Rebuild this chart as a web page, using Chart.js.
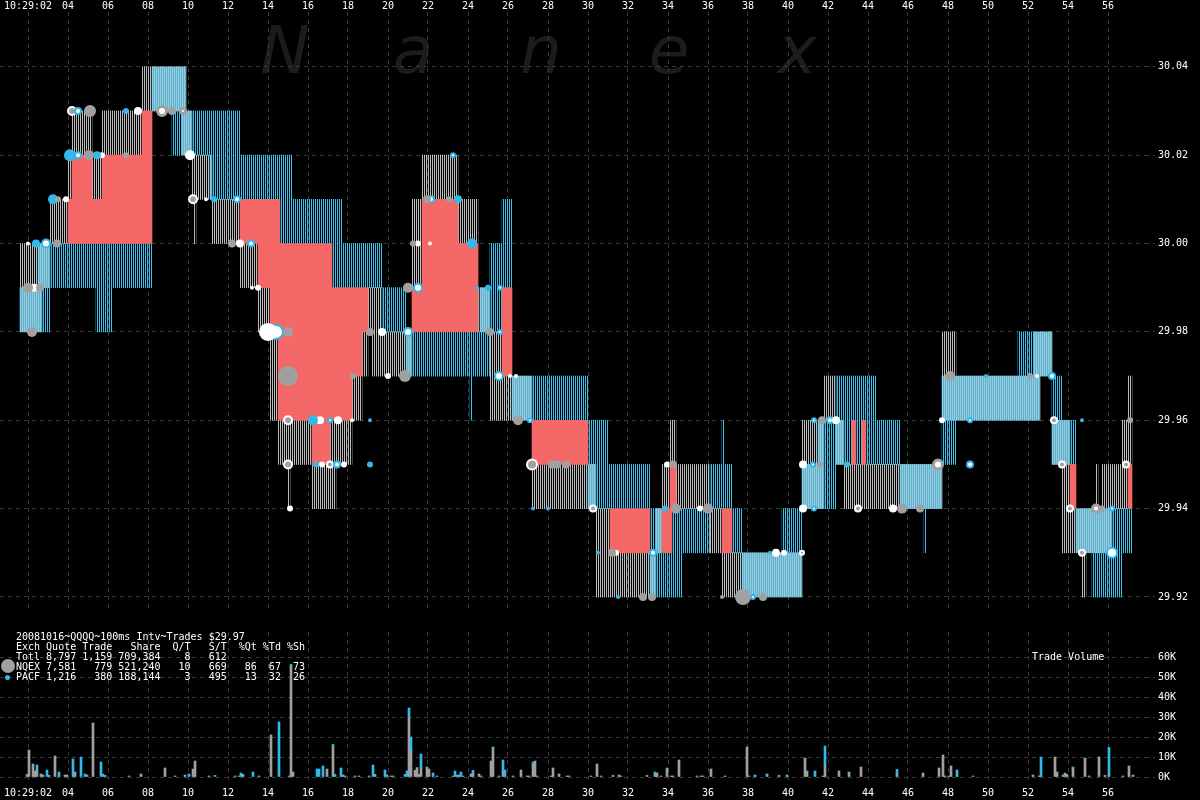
<!DOCTYPE html>
<html>
<head>
<meta charset="utf-8">
<script src="https://cdn.jsdelivr.net/npm/chart.js@4.4.1/dist/chart.umd.min.js"></script>
<style>
  html, body { margin: 0; padding: 0; background: #000; width: 1200px; height: 800px; overflow: hidden; }
  #wrap { position: relative; width: 1200px; height: 800px; }
  canvas { position: absolute; left: 0; }
  #price { top: 0; width: 1200px; height: 620px; }
  #vol { top: 620px; width: 1200px; height: 180px; }
  .txt { position: absolute; color: #fff; font: 10px/10px "DejaVu Sans Mono", monospace; white-space: pre; }
  .dot { position: absolute; border-radius: 50%; }
</style>
</head>
<body>
<div id="wrap">
  <canvas id="price" width="1200" height="620"></canvas>
  <canvas id="vol" width="1200" height="180"></canvas>
  <div class="txt" style="left:16px;top:632px">20081016~QQQQ~100ms Intv~Trades $29.97
Exch Quote Trade   Share  Q/T   S/T  %Qt %Td %Sh
Totl 8,797 1,159 709,384    8   612
NQEX 7,581   779 521,240   10   669   86  67  73
PACF 1,216   380 188,144    3   495   13  32  26</div>
  <div class="dot" style="left:1px;top:659px;width:14px;height:14px;background:#a0a0a0"></div>
  <div class="dot" style="left:5px;top:675px;width:5px;height:5px;background:#32b8ea"></div>
  <div class="txt" style="left:1032px;top:652px">Trade Volume</div>
</div>
<script>
// ---- time axis (seconds after 10:29:00) ----
const timeTicks = [2, 4, 6, 8, 10, 12, 14, 16, 18, 20, 22, 24, 26, 28, 30, 32, 34, 36, 38, 40, 42, 44, 46, 48, 50, 52, 54, 56];
const timeTickLabels = ["10:29:02", "04", "06", "08", "10", "12", "14", "16", "18", "20", "22", "24", "26", "28",
  "30", "32", "34", "36", "38", "40", "42", "44", "46", "48", "50", "52", "54", "56"];
const priceTicks = [29.92, 29.94, 29.96, 29.98, 30.00, 30.02, 30.04];
const volTicks = [0, 10, 20, 30, 40, 50, 60];

// ---- NQEX quotes (each holds until the next time) ----
const nqexTimes = [1.6, 2.7, 3.1, 4.0, 4.2, 5.2, 5.7, 7.7, 9.7, 9.9, 10.2, 10.3, 10.4, 11.2, 12.6, 13.5, 14.1, 14.5,
  15.0, 15.1, 16.2, 17.1, 17.4, 18.2, 18.7, 19.0, 19.2, 19.7, 21.2, 21.7, 23.5, 24.5, 25.1, 25.7, 27.2, 30.4, 31.1,
  33.4, 33.7, 34.1, 34.4, 36.1, 36.7, 40.7, 41.8, 42.4, 42.8, 47.7, 48.4, 52.3, 52.6, 53.2, 53.7, 54.1, 54.7, 54.9,
  55.4, 55.5, 55.7, 56.2, 56.7, 57.0];
const nqexBids = [29.98, 29.99, 30.00, 30.01, 30.02, 30.01, 30.02, 30.03, 30.02, 30.02, 30.01, 30.00, 30.01, 30.00,
  29.99, 29.98, 29.96, 29.95, 29.94, 29.95, 29.94, 29.94, 29.95, 29.96, 29.97, 29.98, 29.97, 29.97, 29.99, 30.01,
  30.00, 29.98, 29.96, 29.96, 29.94, 29.92, 29.92, 29.93, 29.94, 29.95, 29.94, 29.93, 29.92, 29.94, 29.96, 29.95,
  29.94, 29.96, 29.96, 29.96, 29.97, 29.95, 29.93, 29.93, 29.92, 29.93, 29.93, 29.93, 29.93, 29.94, 29.94, 29.95];
const nqexAsks = [30.00, 30.00, 30.01, 30.02, 30.03, 30.02, 30.03, 30.04, 30.04, 30.03, 30.02, 30.02, 30.02, 30.01,
  30.00, 29.99, 29.98, 29.96, 29.96, 29.96, 29.95, 29.96, 29.96, 29.97, 29.98, 29.99, 29.99, 29.98, 30.01, 30.02,
  30.01, 29.99, 29.98, 29.97, 29.95, 29.94, 29.93, 29.94, 29.95, 29.96, 29.95, 29.94, 29.93, 29.96, 29.97, 29.96,
  29.95, 29.98, 29.97, 29.98, 29.98, 29.96, 29.96, 29.94, 29.94, 29.94, 29.95, 29.94, 29.95, 29.95, 29.96, 29.97];

// ---- PACF quotes ----
const pacfTimes = [1.6, 2.5, 3.1, 5.4, 6.2, 8.2, 9.2, 9.9, 11.1, 12.6, 14.6, 15.2, 17.2, 17.7, 19.7, 20.9, 24.1, 24.2,
  24.6, 25.1, 25.7, 26.2, 30.0, 31.0, 33.1, 33.7, 34.2, 34.7, 36.1, 36.7, 36.8, 37.2, 37.7, 39.7, 40.7, 41.5, 42.4,
  43.2, 43.4, 43.7, 43.9, 44.4, 45.6, 46.8, 46.9, 47.7, 48.4, 51.5, 52.6, 53.2, 53.7, 54.4, 55.2, 56.7];
const pacfBids = [29.98, 29.98, 29.99, 29.98, 29.99, 30.03, 30.02, 30.02, 30.01, 30.01, 30.00, 30.00, 29.99, 29.99,
  29.98, 29.97, 29.96, 29.97, 29.97, 29.98, 29.99, 29.96, 29.94, 29.94, 29.92, 29.92, 29.92, 29.93, 29.94, 29.94,
  29.94, 29.93, 29.92, 29.92, 29.94, 29.94, 29.95, 29.96, 29.95, 29.96, 29.95, 29.95, 29.94, 29.93, 29.94, 29.95,
  29.96, 29.96, 29.97, 29.95, 29.95, 29.93, 29.92, 29.93];
const pacfAsks = [29.99, 30.00, 30.00, 30.00, 30.00, 30.04, 30.04, 30.03, 30.03, 30.02, 30.02, 30.01, 30.01, 30.00,
  29.99, 29.98, 29.98, 29.98, 29.99, 30.00, 30.01, 29.97, 29.96, 29.95, 29.94, 29.93, 29.94, 29.94, 29.95, 29.96,
  29.95, 29.94, 29.93, 29.94, 29.95, 29.96, 29.97, 29.97, 29.97, 29.97, 29.97, 29.96, 29.95, 29.95, 29.95, 29.97,
  29.97, 29.98, 29.98, 29.97, 29.96, 29.94, 29.94, 29.94];
const quoteEnd = 57.2;

// ---- trades: time, price, shares, exchange mark ----
const tradeTimes = [2.00, 2.40, 2.90, 3.45, 2.00, 2.30, 2.60, 2.20, 3.25, 3.50, 3.90, 4.10, 4.50, 5.05, 5.45, 5.70,
  6.90, 4.20, 4.50, 5.10, 6.90, 7.50, 8.70, 9.20, 9.75, 10.10, 10.25, 10.90, 11.30, 12.45, 12.20, 12.60, 13.15,
  13.20, 13.50, 14.00, 14.40, 15.00, 15.00, 15.00, 16.25, 16.60, 17.10, 17.50, 18.20, 19.10, 15.00, 16.40, 16.70,
  17.10, 17.45, 17.80, 19.10, 15.10, 18.25, 19.10, 19.70, 20.00, 20.85, 21.00, 21.50, 21.00, 21.25, 21.50, 22.10,
  21.95, 22.15, 23.05, 23.50, 23.25, 24.20, 24.45, 25.00, 25.60, 25.10, 25.60, 25.55, 26.10, 26.40, 26.50, 27.10,
  27.20, 28.20, 28.45, 28.90, 27.25, 28.00, 30.25, 30.50, 31.20, 31.40, 31.50, 32.75, 33.20, 33.25, 33.95, 34.25,
  33.85, 34.40, 35.60, 36.00, 37.75, 38.25, 38.75, 36.70, 39.10, 39.40, 39.80, 40.70, 40.75, 41.30, 40.75, 41.25,
  41.60, 41.30, 41.70, 42.10, 42.40, 42.95, 43.50, 45.25, 45.70, 46.60, 47.50, 47.70, 48.10, 49.90, 52.10, 52.45,
  53.20, 49.10, 53.30, 54.70, 57.10, 49.10, 53.70, 56.90, 54.10, 55.40, 55.70, 56.20, 54.70, 56.20];
const tradePrices = [30.00, 30.00, 30.00, 30.00, 29.99, 29.99, 29.99, 29.98, 30.01, 30.01, 30.01, 30.02, 30.02, 30.02,
  30.02, 30.02, 30.02, 30.03, 30.03, 30.03, 30.03, 30.03, 30.03, 30.03, 30.03, 30.02, 30.01, 30.01, 30.01, 30.01,
  30.00, 30.00, 30.00, 29.99, 29.99, 29.98, 29.98, 29.98, 29.97, 29.96, 29.96, 29.96, 29.96, 29.96, 29.96, 29.96,
  29.95, 29.95, 29.95, 29.95, 29.95, 29.95, 29.95, 29.94, 29.97, 29.98, 29.98, 29.97, 29.97, 29.99, 29.99, 29.98,
  30.00, 30.00, 30.00, 30.01, 30.01, 30.01, 30.01, 30.02, 30.00, 29.99, 29.99, 29.99, 29.98, 29.98, 29.97, 29.97,
  29.97, 29.96, 29.96, 29.95, 29.95, 29.95, 29.95, 29.94, 29.94, 29.94, 29.93, 29.93, 29.93, 29.92, 29.92, 29.92,
  29.93, 29.95, 29.95, 29.94, 29.94, 29.94, 29.94, 29.92, 29.92, 29.92, 29.92, 29.93, 29.93, 29.93, 29.93, 29.94,
  29.94, 29.95, 29.95, 29.95, 29.96, 29.96, 29.96, 29.96, 29.95, 29.94, 29.94, 29.94, 29.94, 29.95, 29.96, 29.97,
  29.97, 29.97, 29.97, 29.97, 29.96, 29.96, 29.96, 29.96, 29.95, 29.95, 29.95, 29.94, 29.94, 29.94, 29.94, 29.93,
  29.93];
const tradeShares = [400, 1600, 2500, 1600, 2500, 1600, 1600, 2500, 2500, 900, 900, 3600, 1600, 2500, 1600, 900, 900,
  2500, 1600, 3600, 900, 1600, 3600, 1600, 1600, 2500, 2500, 400, 900, 1600, 1600, 1600, 1600, 400, 900, 8100, 6400,
  2500, 10000, 2500, 2500, 1600, 900, 1600, 400, 400, 2500, 900, 900, 1600, 1600, 900, 900, 900, 900, 1600, 1600, 900,
  3600, 2500, 2500, 2500, 900, 900, 400, 1600, 1600, 900, 1600, 900, 2500, 400, 900, 900, 1600, 900, 2500, 400, 400,
  2500, 900, 3600, 1600, 1600, 1600, 400, 400, 1600, 400, 1600, 900, 400, 1600, 1600, 1600, 900, 1600, 900, 2500,
  900, 2500, 6400, 900, 1600, 400, 400, 1600, 900, 900, 1600, 900, 1600, 900, 900, 900, 1600, 1600, 1600, 900, 1600,
  1600, 2500, 1600, 3600, 900, 2500, 400, 900, 400, 1600, 900, 1600, 400, 900, 1600, 1600, 1600, 1600, 2500, 900,
  900, 1600, 3600, 1600];
const tradeMarks = ["W", "P", "PW", "N", "N", "W", "N", "N", "P", "N", "W", "P", "PW", "N", "P", "W", "N", "WR", "PW",
  "N", "P", "W", "NW", "N", "NW", "W", "WR", "W", "P", "PW", "N", "W", "PW", "W", "W", "W", "PW", "N", "N", "WR",
  "P", "W", "PW", "W", "W", "P", "WR", "P", "W", "WR", "PW", "W", "P", "W", "N", "N", "W", "W", "N", "N", "PW", "PW",
  "N", "W", "W", "N", "PW", "N", "P", "PW", "P", "P", "P", "PW", "N", "PW", "PW", "W", "W", "N", "PW", "WR", "N", "N",
  "N", "P", "P", "WR", "P", "N", "W", "P", "N", "N", "PW", "W", "N", "P", "N", "W", "N", "N", "PW", "N", "N", "P", "W",
  "W", "WR", "W", "PW", "W", "PW", "N", "PW", "N", "PW", "W", "P", "WR", "W", "N", "N", "NW", "W", "N", "P", "N", "W",
  "PW", "PW", "WR", "P", "NW", "PW", "WR", "WR", "WR", "NW", "N", "PW", "WR", "PW"];

// ---- trade volume per 100ms interval (thousands of shares) ----
const volTimes = [1.9, 2.0, 2.2, 2.3, 2.4, 2.6, 2.7, 2.9, 3.0, 3.3, 3.5, 3.8, 3.9, 4.2, 4.3, 4.6, 4.8, 4.9, 5.2, 5.6,
  5.7, 5.8, 7.0, 7.6, 8.8, 9.3, 9.8, 10.0, 10.2, 10.3, 11.0, 11.3, 12.3, 12.5, 12.6, 12.7, 13.2, 13.5, 14.1, 14.5,
  15.0, 15.1, 15.2, 16.4, 16.5, 16.7, 16.9, 17.2, 17.3, 17.6, 17.7, 17.8, 18.3, 18.5, 19.0, 19.2, 19.3, 19.8, 19.9,
  20.1, 20.2, 20.8, 20.9, 21.0, 21.1, 21.3, 21.4, 21.5, 21.6, 21.9, 22.0, 22.2, 22.4, 23.2, 23.3, 23.4, 23.5, 23.6,
  23.7, 24.1, 24.2, 24.5, 24.6, 25.1, 25.2, 25.5, 25.7, 25.8, 26.2, 26.6, 26.9, 27.0, 27.2, 27.3, 27.4, 28.1, 28.2,
  28.5, 28.9, 29.0, 30.1, 30.4, 30.6, 31.2, 31.5, 31.6, 32.9, 33.3, 33.4, 33.6, 33.9, 34.1, 34.2, 34.5, 35.4, 35.6,
  35.7, 36.1, 36.8, 37.9, 38.0, 38.3, 38.4, 38.9, 39.2, 39.5, 39.9, 40.8, 40.9, 41.3, 41.4, 41.7, 41.8, 42.3, 42.5,
  43.0, 43.1, 43.6, 45.4, 45.8, 46.7, 47.5, 47.7, 47.8, 48.0, 48.1, 48.4, 49.2, 50.0, 52.2, 52.5, 52.6, 53.3, 53.4,
  53.7, 53.8, 53.9, 54.2, 54.8, 55.0, 55.5, 55.8, 56.0, 56.3, 56.7, 57.0, 57.2];
const volNqex = [1.3, 13.5, 6.5, 3, 3.5, 1.5, 1, 0, 0.8, 10.5, 0.5, 1, 1, 0, 2.5, 0, 0, 1, 27, 0, 0, 0.8, 0, 1.5, 4.5,
  0.5, 1, 0, 4, 8, 0.5, 0, 0.5, 0, 0, 1.3, 0, 0.5, 21, 0, 0, 55.5, 2.5, 0, 0, 0, 4, 15.5, 0, 0, 1, 0.5, 0.5, 0.5, 0.5,
  0, 1.3, 0, 1, 0.5, 0.5, 0, 0, 30, 13.5, 3.3, 4.7, 1.3, 4.5, 5, 4, 0, 0.5, 0.5, 0, 0, 1, 0, 0.5, 1.5, 2, 1.5, 0.5, 8,
  14.5, 0.5, 3, 0, 0.5, 3.5, 0.5, 0.5, 6.5, 8, 0, 0, 4.5, 1.5, 0.5, 0.5, 0, 6.5, 0, 0.8, 1, 0, 0.8, 1.5, 2, 0.5, 4, 0.5,
  0.5, 8.5, 0.5, 0.5, 0.5, 4, 0.5, 15, 0.5, 0.5, 0, 1, 0, 0.8, 0.5, 9.5, 2.5, 0, 0, 0.5, 6, 0, 3, 2, 0, 5, 1.3, 0, 2,
  4.5, 11, 0.5, 0.5, 5.5, 0.5, 0, 0, 1, 0.5, 0.5, 10, 2.5, 0.5, 2, 1.3, 4.5, 9.5, 0.5, 10, 0.8, 1.3, 0, 0.5, 5.5, 1];
const volPacf = [0, 0, 0, 0, 2.5, 0, 0, 3.5, 0, 0, 2, 0, 0, 9, 0, 10, 1.5, 0, 0, 7.5, 1.5, 0, 0.5, 0, 0, 0, 0, 1.5, 0,
  0, 0, 0.8, 0, 0.5, 2, 0, 2.5, 0, 0, 27.5, 0.5, 0.8, 0, 4, 4, 5.5, 0, 0.8, 1.3, 4.5, 0, 0, 0, 0, 0, 6, 0, 3.5, 0, 0, 0,
  1.3, 3, 4.5, 6.5, 0, 0, 0, 7, 0, 0, 2, 0, 0, 3, 1, 0, 2.5, 0, 0, 1.3, 0, 0, 0, 0.5, 0, 5.5, 3.5, 0, 0, 0, 0, 1, 0, 0.5,
  0.5, 0, 0, 0, 0, 0.5, 0, 0.5, 0, 0, 0.5, 0, 1, 0, 0, 0.5, 0, 0, 0, 0, 0, 0, 0, 0, 0, 0, 0.5, 0, 0.5, 0, 0, 0.5, 0, 0.5,
  3, 0, 0, 9.5, 0, 0, 0.5, 0, 0, 2.5, 0, 0, 0, 0, 0, 0, 0, 3, 0.5, 0, 0, 0, 9.5, 0, 0, 0.5, 0, 0, 0.5, 0, 0, 0, 0, 13.5,
  0, 0, 0];

// ---- build the marks ----
const cents = (p) => Math.round(p * 100);
function quoteIndex(times, d) {
  if (d >= Math.round(quoteEnd * 10)) return -1;
  for (let i = times.length - 1; i >= 0; i--) {
    if (d >= Math.round(times[i] * 10)) return i;
  }
  return -1;
}

const nqexBars = [], pacfBars = [], crossedBars = [];
for (let d = Math.round(nqexTimes[0] * 10); d < Math.round(quoteEnd * 10); d++) {
  const x = d / 10 + 0.05;
  const i = quoteIndex(nqexTimes, d);
  const j = quoteIndex(pacfTimes, d);
  if (i >= 0) nqexBars.push({ x: x, y: [nqexBids[i], nqexAsks[i]] });
  if (j >= 0) pacfBars.push({ x: x, y: [pacfBids[j], pacfAsks[j]] });
  if (i >= 0 && j >= 0) {
    // crossed market: one exchange bids above the other's offer
    if (cents(nqexBids[i]) > cents(pacfAsks[j])) crossedBars.push({ x: x, y: [pacfAsks[j], nqexBids[i]] });
    else if (cents(pacfBids[j]) > cents(nqexAsks[i])) crossedBars.push({ x: x, y: [nqexAsks[i], pacfBids[j]] });
  }
}

const markStyles = {
  N:  { bg: "#a0a0a0", border: "#a0a0a0", width: 0 },
  P:  { bg: "#32b8ea", border: "#32b8ea", width: 0 },
  W:  { bg: "#ffffff", border: "#ffffff", width: 0 },
  NW: { bg: "#ffffff", border: "#a0a0a0", width: 3 },
  PW: { bg: "#ffffff", border: "#32b8ea", width: 2 },
  WR: { bg: "#a0a0a0", border: "#ffffff", width: 2 },
};
const tradeSets = Object.keys(markStyles).map((mark) => ({
  type: "bubble",
  order: 0,
  data: tradeTimes
    .map((t, i) => ({ x: t, y: tradePrices[i], r: Math.sqrt(tradeShares[i] / 100), m: tradeMarks[i] }))
    .filter((p) => p.m === mark)
    .map((p) => ({ x: p.x, y: p.y, r: markStyles[mark].width ? p.r - markStyles[mark].width / 2 : p.r })),
  backgroundColor: markStyles[mark].bg,
  borderColor: markStyles[mark].border,
  borderWidth: markStyles[mark].width,
}));

const volGrayBars = [], volCyanBars = [];
volTimes.forEach((t, i) => {
  if (volNqex[i] > 0) volGrayBars.push({ x: t + 0.05, y: [0, volNqex[i]] });
  if (volPacf[i] > 0) volCyanBars.push({ x: t + 0.05, y: [volNqex[i], volNqex[i] + volPacf[i]] });
});

// striped fills: NQEX on even pixel columns, PACF on odd ones, so both together read as solid
function stripe(ctx, color, col) {
  const c = document.createElement("canvas");
  c.width = 2; c.height = 1;
  const g = c.getContext("2d");
  g.fillStyle = color;
  g.fillRect(col, 0, 1, 1);
  return ctx.createPattern(c, "repeat");
}

const font = { family: "DejaVu Sans Mono", size: 10 };
const gridColor = "#3a3a3a";
const X_MIN = 0.6, X_MAX = 57.85;

// drop the label overhang padding so the plot area is exactly where it should be
function noPadding(s) {
  s.paddingLeft = 0; s.paddingRight = 0; s.paddingTop = 0; s.paddingBottom = 0;
}

const watermark = {
  id: "watermark",
  beforeDraw(chart) {
    const ctx = chart.ctx;
    ctx.save();
    ctx.font = 'italic 66px "DejaVu Sans"';
    ctx.fillStyle = "#1c1c1c";
    ctx.textAlign = "center";
    "Nanex".split("").forEach((ch, i) => ctx.fillText(ch, 285 + i * 128, 73));
    ctx.restore();
  },
};

function timeAxis(position, height, pad) {
  return {
    type: "linear",
    position: position,
    min: X_MIN,
    max: X_MAX,
    offset: false,
    afterBuildTicks: (s) => { s.ticks = timeTicks.map((v) => ({ value: v })); },
    afterFit: (s) => { s.height = height; noPadding(s); },
    ticks: { color: "#fff", font: font, padding: pad, maxRotation: 0, autoSkip: false,
      callback: (v, i) => timeTickLabels[i] },
    grid: { color: gridColor, drawTicks: false, offset: false },
    border: { display: false, dash: [4, 4] },
  };
}

const priceCanvas = document.getElementById("price");
const pctx = priceCanvas.getContext("2d");

new Chart(priceCanvas, {
  type: "bar",
  data: {
    datasets: [
      ...tradeSets,
      { label: "Crossed", data: crossedBars, backgroundColor: "#f46868", order: 1 },
      { label: "PACF", data: pacfBars, backgroundColor: stripe(pctx, "#38c0ee", 1), order: 2 },
      { label: "NQEX", data: nqexBars, backgroundColor: stripe(pctx, "#bcbcbc", 0), order: 3 },
    ],
  },
  options: {
    responsive: false,
    animation: false,
    devicePixelRatio: 1,
    layout: { autoPadding: false, padding: { left: 0, right: 0, top: 0, bottom: 8 } },
    plugins: { legend: { display: false }, tooltip: { enabled: false } },
    datasets: { bar: { grouped: false, barThickness: 2, borderWidth: 0, borderSkipped: false } },
    scales: {
      x: timeAxis("top", 12, 0),
      y: {
        position: "right",
        min: 29.9166,
        max: 30.0524,
        afterBuildTicks: (s) => { s.ticks = priceTicks.map((v) => ({ value: v })); },
        afterFit: (s) => { s.width = 55; noPadding(s); },
        ticks: { color: "#fff", font: font, padding: 3, callback: (v) => v.toFixed(2) },
        grid: { color: gridColor, tickLength: 10, tickColor: gridColor, tickBorderDash: [4, 4] },
        border: { display: false, dash: [4, 4] },
      },
    },
  },
  plugins: [watermark],
});

new Chart(document.getElementById("vol"), {
  type: "bar",
  data: {
    datasets: [
      { label: "PACF", data: volCyanBars, backgroundColor: "#32b8ea" },
      { label: "NQEX", data: volGrayBars, backgroundColor: "#a0a0a0" },
    ],
  },
  options: {
    responsive: false,
    animation: false,
    devicePixelRatio: 1,
    layout: { autoPadding: false, padding: { left: 0, right: 0, top: 12, bottom: 0 } },
    plugins: { legend: { display: false }, tooltip: { enabled: false } },
    datasets: { bar: { grouped: false, barThickness: 2, borderWidth: 0, borderSkipped: false } },
    scales: {
      x: timeAxis("bottom", 20, 7),
      y: {
        position: "right",
        min: -1.5,
        max: 72.5,
        afterBuildTicks: (s) => { s.ticks = volTicks.map((v) => ({ value: v })); },
        afterFit: (s) => { s.width = 55; noPadding(s); },
        ticks: { color: "#fff", font: font, padding: 3, callback: (v) => v + "K" },
        grid: { color: gridColor, tickLength: 10, tickColor: gridColor, tickBorderDash: [4, 4] },
        border: { display: false, dash: [4, 4] },
      },
    },
  },
});
</script>
</body>
</html>
